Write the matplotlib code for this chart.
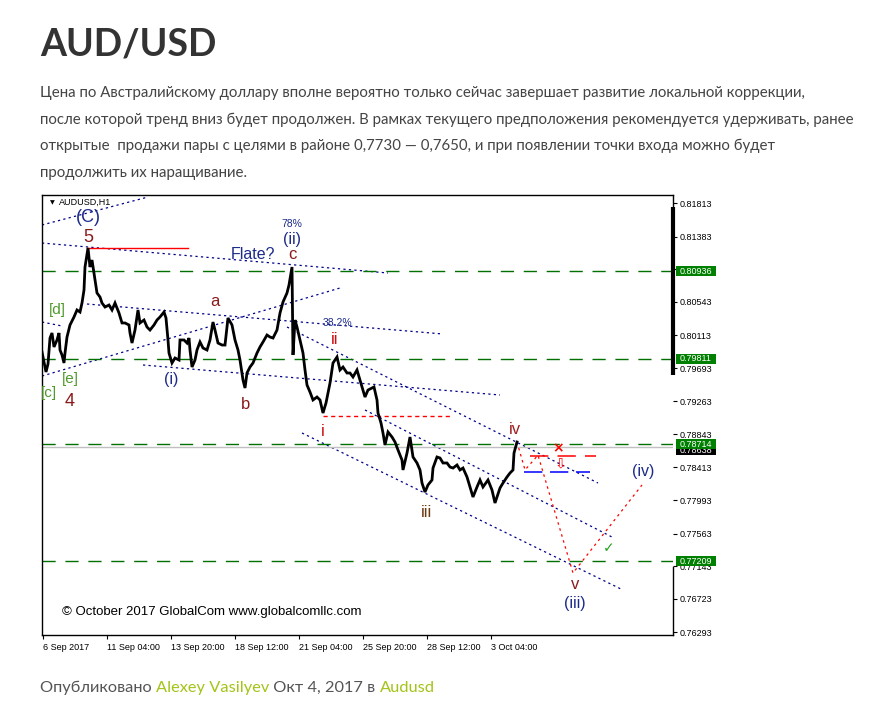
import matplotlib
matplotlib.use('Agg')
import matplotlib.pyplot as plt
from matplotlib.transforms import blended_transform_factory
import matplotlib.patches as mpatches

W, H = 887, 721
fig = plt.figure(figsize=(W / 100, H / 100), dpi=100)
fig.patch.set_facecolor('white')

# ---------------- data ----------------
bar_index = [0, 2, 4, 6, 8, 10, 12, 15, 17, 18, 20, 22, 23, 25, 28, 32, 35, 38, 40, 42,
             43, 46, 48, 50, 52, 53, 55, 58, 60, 63, 67, 70, 73, 77, 80, 83, 87, 88, 90, 93,
             96, 98, 102, 105, 108, 112, 115, 118, 122, 124, 126, 127, 130, 133, 137, 138, 142, 145, 147, 148,
             150, 153, 155, 158, 161, 165, 168, 171, 173, 176, 180, 183, 186, 190, 193, 196, 198, 201, 203, 205,
             208, 211, 215, 218, 221, 225, 228, 231, 235, 238, 241, 245, 247, 250, 251, 253, 255, 258, 261, 263,
             265, 268, 271, 275, 278, 281, 284, 288, 291, 295, 298, 301, 305, 308, 311, 315, 318, 321, 323, 326,
             330, 332, 335, 336, 339, 341, 343, 346, 350, 353, 356, 360, 361, 365, 368, 371, 375, 378, 380, 383,
             386, 390, 391, 395, 398, 401, 405, 408, 411, 415, 418, 421, 425, 428, 431, 435, 438, 441, 446, 450,
             453, 455, 458, 461, 465, 468, 471, 472, 475]
close = [0.79899, 0.79771, 0.79642, 0.79745, 0.80079, 0.80144, 0.79964, 0.80054, 0.80144, 0.79925,
         0.79861, 0.79758, 0.79886, 0.80092, 0.80247, 0.80350, 0.80440, 0.80414, 0.80530, 0.80697,
         0.80993, 0.81238, 0.80993, 0.81083, 0.80916, 0.80826, 0.80659, 0.80607, 0.80530, 0.80478,
         0.80504, 0.80440, 0.80530, 0.80401, 0.80273, 0.80273, 0.80247, 0.80144, 0.80015, 0.80182,
         0.80440, 0.80273, 0.80311, 0.80221, 0.80182, 0.80247, 0.80311, 0.80350, 0.80414, 0.80337,
         0.80054, 0.79886, 0.79758, 0.79822, 0.79796, 0.80054, 0.80054, 0.80015, 0.80079, 0.79925,
         0.79706, 0.79796, 0.79925, 0.80028, 0.79951, 0.79925, 0.80054, 0.80285, 0.80182, 0.80015,
         0.79989, 0.79989, 0.80337, 0.80247, 0.80054, 0.79925, 0.79796, 0.79539, 0.79436, 0.79629,
         0.79706, 0.79758, 0.79886, 0.79964, 0.80028, 0.80118, 0.80092, 0.80079, 0.80182, 0.80401,
         0.80543, 0.80659, 0.80762, 0.80993, 0.79861, 0.80311, 0.80221, 0.80054, 0.79886, 0.79668,
         0.79475, 0.79384, 0.79282, 0.79320, 0.79282, 0.79114, 0.79243, 0.79500, 0.79758, 0.79835,
         0.79668, 0.79706, 0.79629, 0.79629, 0.79578, 0.79668, 0.79539, 0.79410, 0.79320, 0.79410,
         0.79436, 0.79449, 0.79282, 0.79114, 0.78986, 0.78857, 0.78702, 0.78870, 0.78805, 0.78741,
         0.78638, 0.78509, 0.78381, 0.78599, 0.78805, 0.78548, 0.78471, 0.78381, 0.78213, 0.78097,
         0.78188, 0.78252, 0.78406, 0.78548, 0.78535, 0.78471, 0.78471, 0.78419, 0.78406, 0.78445,
         0.78381, 0.78406, 0.78291, 0.78162, 0.78033, 0.78162, 0.78252, 0.78162, 0.78252, 0.78123,
         0.77956, 0.78033, 0.78149, 0.78213, 0.78291, 0.78342, 0.78381, 0.78599, 0.78741]

x_tick_pos = [1, 65, 129, 193, 257, 321, 385, 449]
x_tick_labels = ['6 Sep 2017', '11 Sep 04:00', '13 Sep 20:00', '18 Sep 12:00',
                 '21 Sep 04:00', '25 Sep 20:00', '28 Sep 12:00', '3 Oct 04:00']
y_ticks = [0.81813, 0.81383, 0.80963, 0.80543, 0.80113, 0.79693, 0.79263,
           0.78843, 0.78413, 0.77993, 0.77563, 0.77143, 0.76723, 0.76293]
levels = [0.80936, 0.79811, 0.78714, 0.77209]
current_price = 0.78638
bid_price = 0.78677

# analyst trend lines: (x0, p0, x1, p1)
blue_lines = [(0, 0.81534, 106, 0.81894),
              (0, 0.81302, 346, 0.80916),
              (0, 0.79590, 298, 0.80723),
              (0, 0.80285, 20, 0.80234),
              (45, 0.80517, 401, 0.80131),
              (101, 0.79732, 458, 0.79346),
              (245, 0.80221, 556, 0.78213),
              (323, 0.79153, 570, 0.77518),
              (260, 0.78857, 581, 0.76836)]
forecast_x = [475, 483, 496, 531, 600]
forecast_p = [0.78741, 0.78381, 0.78571, 0.77055, 0.78188]

# ---------------- page text ----------------
fig.text(40 / W, 1 - 55 / H, 'AUD/USD', fontsize=27, fontweight='bold',
         family=['Lato', 'DejaVu Sans'], color='#333333', va='baseline', ha='left')

para = ['Цена по Австралийскому доллару вполне вероятно только сейчас завершает развитие локальной коррекции,',
        'после которой тренд вниз будет продолжен. В рамках текущего предположения рекомендуется удерживать, ранее',
        'открытые  продажи пары с целями в районе 0,7730 — 0,7650, и при появлении точки входа можно будет',
        'продолжить их наращивание.']
for i, line in enumerate(para):
    fig.text(40 / W, 1 - (97 + 26.6 * i) / H, line, fontsize=10.8,
             family=['Lato', 'Roboto', 'DejaVu Sans'], color='#444444', va='baseline', ha='left')

# footer with coloured parts
renderer = fig.canvas.get_renderer()
parts = [('Опубликовано ', '#555555'), ('Alexey Vasilyev', '#a2c417'),
         (' Окт 4, 2017 в ', '#555555'), ('Audusd', '#a2c417')]
xcur = 40.0
for txt, col in parts:
    t = fig.text(xcur / W, 1 - 692 / H, txt, fontsize=11.8, family=['Lato', 'Roboto', 'DejaVu Sans'],
                 color=col, va='baseline', ha='left')
    bb = t.get_window_extent(renderer=renderer)
    xcur += bb.width

# ---------------- chart ----------------
ax = fig.add_axes([42 / W, 1 - 635 / H, (673 - 42) / W, (635 - 195) / H])
ax.set_xlim(0, 631)
ax.set_ylim(0.76257, 0.81920)
ax.set_facecolor('white')

navy = '#00008b'
for (x0, p0, x1, p1) in blue_lines:
    ax.plot([x0, x1], [p0, p1], color=navy, lw=0.9, ls=(0, (1.8, 2.6)), zorder=2)

for lv in levels:
    ax.axhline(lv, color='#007000', lw=1.0, ls=(0, (9.5, 7)), zorder=2)
ax.axhline(bid_price, color='#c0c0c0', lw=1.0, zorder=2)

# red lines
ax.plot([45, 146], [0.81238, 0.81238], color='red', lw=1.0, zorder=3)
ax.plot([281, 410], [0.79076, 0.79076], color='red', lw=1.0, ls=(0, (3, 2.5)), zorder=3)
ax.plot([488, 554], [0.78561, 0.78561], color='red', lw=1.1, ls=(0, (12, 6)), zorder=3)
ax.plot([482, 548], [0.78355, 0.78355], color='#0000ff', lw=1.1, ls=(0, (12, 5)), zorder=3)
ax.plot(forecast_x, forecast_p, color='red', lw=0.9, ls=(0, (2, 3)), zorder=3)

# price
ax.plot(bar_index, close, color='black', lw=2.0, zorder=4, solid_joinstyle='miter')

# markers / annotations
ax.text(516, 0.78664, '×', color='red', fontsize=10, fontweight='bold', ha='center', va='center',
        family='DejaVu Sans')
ax.text(518, 0.78471, '⇩', color='red', fontsize=10, ha='center', va='center', family='DejaVu Sans')
ax.text(567, 0.77377, '✓', color='#22a022', fontsize=10, ha='center', va='center', family='DejaVu Sans')

lab = ['Liberation Sans', 'DejaVu Sans']
dred = '#8b1a1a'
red = '#cc1010'
nv = '#1c2a8a'
grn = '#4f9a2a'
labels = [
    ('(C)', 46, 0.81624, 13, nv), ('5', 46, 0.81379, 13, dred),
    ('78%', 250, 0.81547, 7.5, nv), ('(ii)', 250, 0.81345, 11.5, nv),
    ('Flate?', 211, 0.81160, 11.5, nv), ('c', 250, 0.81150, 12, dred),
    ('a', 173, 0.80543, 12, dred), ('38.2%', 295, 0.80273, 7.5, nv),
    ('ii', 293, 0.80054, 12, red), ('[d]', 15, 0.80440, 11, grn),
    ('[e]', 28, 0.79552, 11, grn), ('[c]', 7, 0.79372, 11, grn),
    ('4', 28, 0.79256, 13, dred), ('(i)', 129, 0.79539, 11.5, nv),
    ('b', 204, 0.79230, 12, dred), ('i', 281, 0.78870, 12, red),
    ('iii', 385, 0.77840, 12, '#6b3a10'), ('iv', 473, 0.78896, 12, '#a02020'),
    ('v', 533, 0.76901, 12, dred), ('(iii)', 533, 0.76657, 11.5, nv),
    ('(iv)', 601, 0.78355, 11.5, nv),
]
for txt, x, p, fs, col in labels:
    ax.text(x, p, txt, fontsize=fs, color=col, ha='center', va='center', family=lab, zorder=5)

ax.text(20, 0.76553, '© October 2017 GlobalCom www.globalcomllc.com', fontsize=9.5,
        color='black', ha='left', va='center', family=lab, zorder=5)

# chart header
ax.text(0.012, 0.983, '▼', transform=ax.transAxes, fontsize=4.5, ha='left', va='center',
        family='DejaVu Sans')
ax.text(0.027, 0.983, 'AUDUSD,H1', transform=ax.transAxes, fontsize=6.5, ha='left', va='center',
        family=lab)

# axes styling
for s in ['left', 'top', 'bottom']:
    ax.spines[s].set_linewidth(1.0)
    ax.spines[s].set_color('black')
ax.spines['right'].set_visible(False)
bt = blended_transform_factory(ax.transAxes, ax.transData)
ax.plot([1, 1], [0.81920, 0.81766], color='black', lw=1.0, transform=bt, clip_on=False)
ax.plot([1, 1], [0.81766, 0.79603], color='black', lw=3.0, transform=bt, clip_on=False,
        solid_capstyle='butt')
ax.plot([1, 1], [0.77132, 0.76257], color='black', lw=1.0, transform=bt, clip_on=False)

ax.yaxis.tick_right()
ax.set_yticks(y_ticks)
ax.set_yticklabels([f'{v:.5f}' for v in y_ticks])
ax.tick_params(axis='y', direction='out', length=3, width=0.8, pad=2, labelsize=6.5, colors='black')
for t in ax.get_yticklabels():
    t.set_family(lab)

ax.set_xticks(x_tick_pos)
ax.set_xticklabels(x_tick_labels)
ax.tick_params(axis='x', direction='out', length=3, width=0.8, pad=3, labelsize=6.5)
for t in ax.get_xticklabels():
    t.set_horizontalalignment('left')
    t.set_family(lab)

# price labels on the right
bw = 40 / 631
x0 = 1 + 3 / 631
ax.add_patch(mpatches.Rectangle((x0, current_price - 0.00064), bw, 0.00129, transform=bt,
                                facecolor='black', edgecolor='none', clip_on=False, zorder=6))
ax.text(x0 + bw / 2, current_price, f'{current_price:.5f}', transform=bt, color='white',
        fontsize=6.5, ha='center', va='center', family=lab, clip_on=False, zorder=7)
for lv in levels:
    ax.add_patch(mpatches.Rectangle((x0, lv - 0.00064), bw, 0.00129, transform=bt,
                                    facecolor='#008000', edgecolor='none', clip_on=False, zorder=8))
    ax.text(x0 + bw / 2, lv, f'{lv:.5f}', transform=bt, color='white',
            fontsize=6.5, ha='center', va='center', family=lab, clip_on=False, zorder=9)

fig.savefig('out.png', dpi=100, facecolor='white')
